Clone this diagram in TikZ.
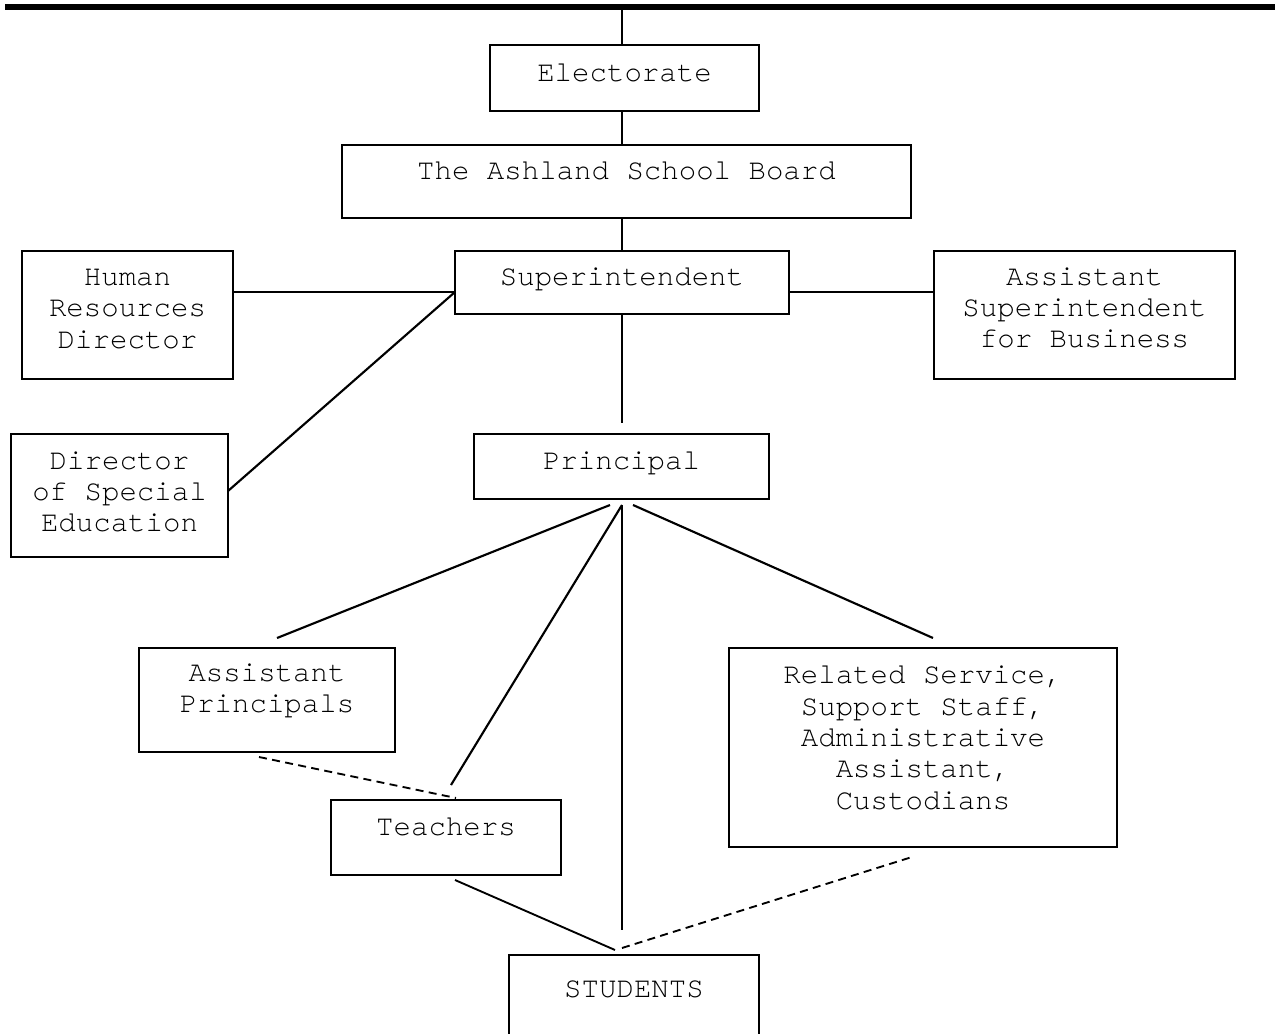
\documentclass[tikz,border=0pt]{standalone}
\usepackage{fontspec}
\setmainfont{TeX Gyre Cursor}[Ligatures={NoCommon,NoRequired}]
\usetikzlibrary{fit}
\begin{document}
\begin{tikzpicture}[x=0.75pt,y=-0.75pt,
  box/.style={draw,line width=1.5pt,inner sep=0pt,rectangle},
  lbl/.style={align=center,inner sep=0pt,font=\fontsize{21.8pt}{23.5pt}\selectfont},
  conn/.style={line width=1.6pt},
  dconn/.style={line width=1.4pt,dash pattern=on 6pt off 4pt}]
\useasboundingbox (0,0) rectangle (1275,1034);
\clip (0,0) rectangle (1275,1034);
% boxes
\node[box,fit={(490,45) (759,111)}] (elec) {};
\node[box,fit={(342,145) (911,218)}] (board) {};
\node[box,fit={(455,251) (789,314)}] (super) {};
\node[box,fit={(22,251) (233,379)}] (hr) {};
\node[box,fit={(934,251) (1235,379)}] (asb) {};
\node[box,fit={(11,434) (228,557)}] (dse) {};
\node[box,fit={(474,434) (769,499)}] (prin) {};
\node[box,fit={(139,648) (395,752)}] (ap) {};
\node[box,fit={(331,800) (561,875)}] (teach) {};
\node[box,fit={(729,648) (1117,847)}] (rel) {};
\node[box,fit={(509,955) (759,1060)}] (stud) {};
% texts
\node[lbl,anchor=base] (elect) at (624.5,82) {Electorate};
\node[lbl,anchor=base] (boardt) at (626.5,180) {The Ashland School Board};
\node[lbl,anchor=base] (supert) at (622,286) {Superintendent};
\node[lbl] (hrt) at (127.5,309) {Human\\Resources\\Director};
\node[lbl] (asbt) at (1084.5,308) {Assistant\\Superintendent\\for Business};
\node[lbl] (dset) at (119.5,492) {Director\\of Special\\Education};
\node[lbl,anchor=base] (print) at (621.5,469) {Principal};
\node[lbl] (apt) at (267,691) {Assistant\\Principals};
\node[lbl,anchor=base] (teacht) at (446,835) {Teachers};
\node[lbl] (relt) at (923,738) {Related Service,\\Support Sta{}f{}f,\\Administrative\\Assistant,\\Custodians};
\node[lbl,anchor=base] (studt) at (634,997) {STUDENTS};
% connector points
\coordinate (tl) at (5,7);
\coordinate (tr) at (1280,7);
\coordinate (spine) at (622,7);
\coordinate (superend) at (622,423);
\coordinate (fanL) at (610,505);
\coordinate (fanM) at (622,505);
\coordinate (fanR) at (633,505);
\coordinate (apIn) at (277,638);
\coordinate (relIn) at (933,638);
\coordinate (teachIn) at (451,785);
\coordinate (vertEnd) at (622,930);
\coordinate (apDash) at (259,757);
\coordinate (teachDash) at (456,798);
\coordinate (teachOut) at (455,880);
\coordinate (studL) at (615,950);
\coordinate (relDash) at (912,857);
\coordinate (studR) at (622,948);
\coordinate (dseOut) at (228,491);
\coordinate (superL) at (455,292);
% connectors
\draw[line width=4.5pt] (tl) -- (tr);
\draw[conn] (spine) -- (elec.north -| spine);
\draw[conn] (elec.south -| spine) -- (board.north -| spine);
\draw[line width=2.2pt] (board.south -| spine) -- (super.north -| spine);
\draw[conn] (hr.east |- superL) -- (superL);
\draw[conn] (super.east |- superL) -- (asb.west |- superL);
\draw[conn] (dseOut) -- (superL);
\draw[conn] (super.south -| spine) -- (superend);
\draw[conn] (fanL) -- (apIn);
\draw[conn] (fanM) -- (teachIn);
\draw[conn] (fanM) -- (vertEnd);
\draw[conn] (fanR) -- (relIn);
\draw[dconn] (apDash) -- (teachDash);
\draw[conn,line width=1.4pt] (teachOut) -- (studL);
\draw[dconn] (studR) -- (relDash);
\end{tikzpicture}
\end{document}
